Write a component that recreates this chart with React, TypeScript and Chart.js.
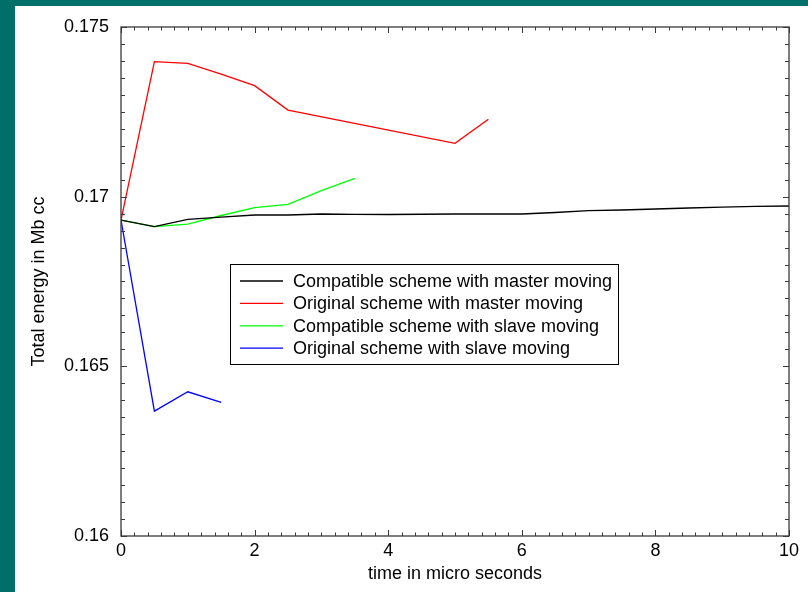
import React, { useEffect, useRef } from 'react';
import { Chart, registerables } from 'chart.js';

Chart.register(...registerables);

// ---- data ----
const seriesLabels = [
  'Compatible scheme with master moving',
  'Original scheme with master moving',
  'Compatible scheme with slave moving',
  'Original scheme with slave moving',
];
const seriesColors = ['#000000', '#ff0000', '#00ff00', '#0000ff'];

const compatMasterX = [0, 0.5, 1, 1.5, 2, 2.5, 3, 3.5, 4, 5, 6, 6.5, 7, 7.5, 8, 8.5, 9, 9.5, 10];
const compatMasterY = [0.16931, 0.169115, 0.169333, 0.1694, 0.16946, 0.16946, 0.169489, 0.16948, 0.169474, 0.169489, 0.169489, 0.169533, 0.169586, 0.169607, 0.169636, 0.169666, 0.169689, 0.169716, 0.169725];

const origMasterX = [0, 0.5, 1, 1.5, 2, 2.5, 5, 5.5];
const origMasterY = [0.16931, 0.17398, 0.17393, 0.17361, 0.17327, 0.17255, 0.17157, 0.17228];

const compatSlaveX = [0, 0.5, 1, 1.5, 2, 2.5, 3, 3.5];
const compatSlaveY = [0.16931, 0.169115, 0.16919, 0.169445, 0.16968, 0.169775, 0.17018, 0.17054];

const origSlaveX = [0, 0.5, 1, 1.5];
const origSlaveY = [0.16931, 0.16368, 0.16425, 0.16394];

const xTicks = [0, 2, 4, 6, 8, 10];
const xTickLabels = ['0', '2', '4', '6', '8', '10'];
const yTicks = [0.16, 0.165, 0.17, 0.175];
const yTickLabels = ['0.16', '0.165', '0.17', '0.175'];

const xTitle = 'time in micro seconds';
const yTitle = 'Total energy in Mb cc';

// ---- styling ----
const FONT_FAMILY = "'Liberation Sans', Arial, Helvetica, sans-serif";
const TEAL = '#006f69';
const AXIS_COLOR = '#3a3a3a';
const X_MINOR_STEP = 0.2;
const Y_MINOR_STEP = 0.0005;

const toPoints = (xs: number[], ys: number[]) => xs.map((x, i) => ({ x, y: ys[i] }));

const framePlugin = {
  id: 'frameAndLegend',
  beforeDraw(chart: any) {
    const ctx = chart.ctx;
    ctx.save();
    ctx.fillStyle = TEAL;
    ctx.fillRect(0, 0, chart.width, chart.height);
    ctx.fillStyle = '#ffffff';
    ctx.fillRect(15, 6, chart.width - 15, chart.height - 6);
    ctx.restore();
  },
  afterDatasetsDraw(chart: any) {
    const ctx = chart.ctx;
    const { left, right, top, bottom } = chart.chartArea;
    const xs = chart.scales.x;
    const ys = chart.scales.y;
    ctx.save();
    ctx.strokeStyle = AXIS_COLOR;
    ctx.lineWidth = 1;
    ctx.beginPath();
    const nx = Math.round((xs.max - xs.min) / X_MINOR_STEP);
    for (let i = 0; i <= nx; i++) {
      const v = xs.min + i * X_MINOR_STEP;
      const px = Math.round(xs.getPixelForValue(v)) + 0.5;
      const len = i % 10 === 0 ? 6 : 3.5;
      ctx.moveTo(px, bottom);
      ctx.lineTo(px, bottom - len);
      ctx.moveTo(px, top);
      ctx.lineTo(px, top + len);
    }
    const ny = Math.round((ys.max - ys.min) / Y_MINOR_STEP);
    for (let i = 0; i <= ny; i++) {
      const v = ys.min + i * Y_MINOR_STEP;
      const py = Math.round(ys.getPixelForValue(v)) + 0.5;
      const len = i % 10 === 0 ? 6 : 4;
      ctx.moveTo(left, py);
      ctx.lineTo(left + len, py);
      ctx.moveTo(right, py);
      ctx.lineTo(right - len, py);
    }
    ctx.stroke();
    ctx.lineWidth = 1.3;
    ctx.strokeRect(left, top, right - left, bottom - top);
    ctx.restore();
  },
  afterDraw(chart: any) {
    const ctx = chart.ctx;
    const boxL = 230, boxT = 264, boxR = 618, boxB = 364;
    ctx.save();
    ctx.fillStyle = '#ffffff';
    ctx.fillRect(boxL, boxT, boxR - boxL, boxB - boxT);
    ctx.strokeStyle = '#000000';
    ctx.lineWidth = 1;
    ctx.strokeRect(boxL + 0.5, boxT + 0.5, boxR - boxL, boxB - boxT);
    ctx.font = `18px ${FONT_FAMILY}`;
    ctx.textBaseline = 'middle';
    ctx.textAlign = 'left';
    chart.data.datasets.forEach((ds: any, i: number) => {
      const y = 281 + i * 22.4;
      ctx.strokeStyle = ds.borderColor;
      ctx.lineWidth = 1.3;
      ctx.beginPath();
      ctx.moveTo(240, y);
      ctx.lineTo(283, y);
      ctx.stroke();
      ctx.fillStyle = '#000000';
      ctx.fillText(ds.label, 293, y + 1);
    });
    ctx.restore();
  },
};

export default function App() {
  const canvasRef = useRef<HTMLCanvasElement | null>(null);

  useEffect(() => {
    if (!canvasRef.current) return;
    const font = { family: FONT_FAMILY, size: 18 };
    const seriesX = [compatMasterX, origMasterX, compatSlaveX, origSlaveX];
    const seriesY = [compatMasterY, origMasterY, compatSlaveY, origSlaveY];
    const chart = new Chart(canvasRef.current, {
      type: 'line',
      data: {
        datasets: seriesLabels.map((label, i) => ({
          label,
          data: toPoints(seriesX[i], seriesY[i]),
          borderColor: seriesColors[i],
          backgroundColor: seriesColors[i],
          borderWidth: 1.3,
          pointRadius: 0,
          tension: 0,
          fill: false,
        })),
      },
      options: {
        responsive: false,
        animation: false,
        events: [],
        layout: { padding: { top: 27, right: 19, left: 0, bottom: 0 } },
        plugins: { legend: { display: false }, tooltip: { enabled: false } },
        scales: {
          x: {
            type: 'linear',
            min: 0,
            max: 10,
            grid: { display: false, drawTicks: false },
            border: { display: false },
            afterBuildTicks: (s: any) => {
              s.ticks = xTicks.map((v) => ({ value: v }));
            },
            ticks: {
              padding: 4,
              font,
              color: '#000000',
              maxRotation: 0,
              autoSkip: false,
              callback: (_v: any, i: number) => xTickLabels[i],
            },
            title: { display: true, text: xTitle, font, color: '#000000', padding: { top: 0, bottom: 7 } },
            afterFit: (s: any) => {
              s.height = 56;
            },
          },
          y: {
            type: 'linear',
            min: 0.16,
            max: 0.175,
            grid: { display: false, drawTicks: false },
            border: { display: false },
            afterBuildTicks: (s: any) => {
              s.ticks = yTicks.map((v) => ({ value: v }));
            },
            ticks: {
              padding: 12,
              font,
              color: '#000000',
              autoSkip: false,
              callback: (_v: any, i: number) => yTickLabels[i],
            },
            title: { display: true, text: yTitle, font, color: '#000000', padding: { top: 28, bottom: 0 } },
            afterFit: (s: any) => {
              s.width = 121;
            },
          },
        },
      } as any,
      plugins: [framePlugin],
    });
    return () => chart.destroy();
  }, []);

  return (
    <div style={{ position: 'absolute', left: 0, top: 0, width: 808, height: 592 }}>
      <canvas ref={canvasRef} width={808} height={592} style={{ display: 'block', width: 808, height: 592 }} />
    </div>
  );
}
